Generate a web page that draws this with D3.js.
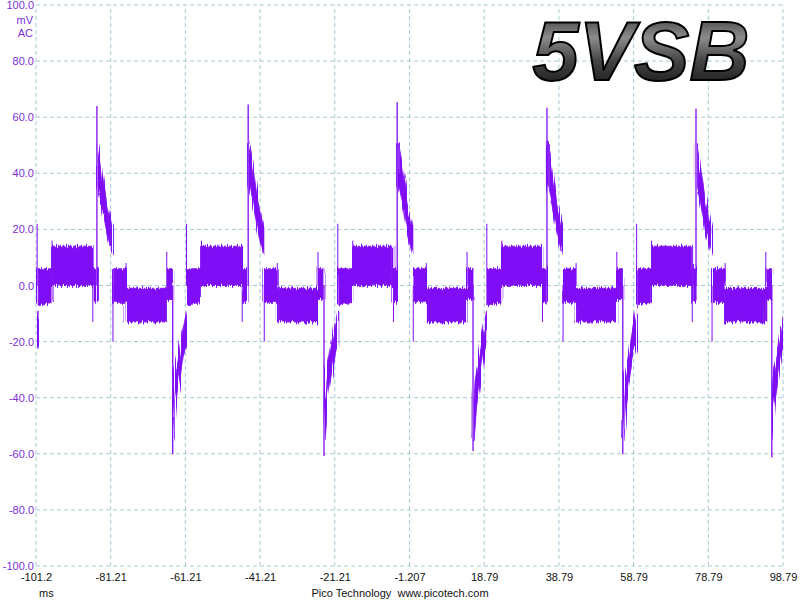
<!DOCTYPE html>
<html lang="en">
<head>
    <meta charset="utf-8">
    <title>5VSB ripple</title>
    <script src="https://d3js.org/d3.v7.min.js"></script>
    <style>
        body { margin: 0; background: #fff; }
        text { font-family: "Liberation Sans", Arial, sans-serif; }
    </style>
</head>
<body>
    <div id="chart"></div>

    <script>
        // Axis ticks (mV and ms)
        const yTicks = [-100, -80, -60, -40, -20, 0, 20, 40, 60, 80, 100];
        const xTicks = [-101.207, -81.207, -61.207, -41.207, -21.207, -1.207, 18.793, 38.793, 58.793, 78.793, 98.793];
        const xTickLabels = ["-101.2", "-81.21", "-61.21", "-41.21", "-21.21", "-1.207", "18.79", "38.79", "58.79", "78.79", "98.79"];

        // Time (ms) of each big positive spike
        const cycleStarts = [-124.9, -84.9, -44.4, -4.5, 35.6, 75.5];
        // Peak of the positive spike and of the negative spike in each cycle (mV)
        const upPeaks = [64, 64, 64.5, 65.3, 63.4, 63];
        const downPeaks = [-60, -60.2, -60.8, -59, -60.2, -61.3];

        // Envelope of the noisy trace within one cycle: [ms after the spike, low mV, high mV]
        const decayBand = [[0.1, 36, 51], [0.8, 32, 46], [1.7, 26, 38], [2.6, 19, 30], [3.9, 12, 22], [4.2, 11, 21]];
        const zeroBand1 = [[4.2, -6, 6], [7.8, -6, 6]];
        const lowBand = [[7.8, -13, -1], [18.7, -13, -1]];
        const zeroBand2 = [[18.7, -5, 6], [20.3, -5, 6]];
        const recoveryBand = [[20.3, -55, -40], [20.6, -50, -33], [21.0, -43, -30], [21.8, -36, -25], [23.1, -25, -15], [24.0, -21, -9]];
        const zeroBand3 = [[24.0, -7, 6], [28.0, -6, 6]];
        const highBand = [[28.0, 0, 14], [39.0, 0, 14]];
        const zeroBand4 = [[39.0, -6, 6], [40.2, -6, 6]];
        const bands = [decayBand, zeroBand1, lowBand, zeroBand2, recoveryBand, zeroBand3, highBand, zeroBand4];

        // Narrow glitches at the band edges: [ms after the spike, mV]
        const glitches = [[4.3, -20], [18.7, 12], [24.0, 22], [38.9, -13], [7.8, 8], [28.0, 16]];

        const width = 800;
        const height = 600;
        const margin = { left: 36, right: 17, top: 5, bottom: 34 };

        const svg = d3.select("#chart")
            .append("svg")
            .attr("width", width)
            .attr("height", height);

        const x = d3.scaleLinear()
            .domain([xTicks[0], xTicks[xTicks.length - 1]])
            .range([margin.left, width - margin.right]);

        const y = d3.scaleLinear()
            .domain([-100, 100])
            .range([height - margin.bottom, margin.top]);

        const gridColor = "#a6cbd6";

        // Grid
        svg.append("g")
            .selectAll("line")
            .data(yTicks)
            .join("line")
            .attr("x1", x.range()[0]).attr("x2", x.range()[1])
            .attr("y1", d => y(d)).attr("y2", d => y(d))
            .attr("stroke", gridColor)
            .attr("stroke-dasharray", "4,3");

        svg.append("g")
            .selectAll("line")
            .data(xTicks)
            .join("line")
            .attr("y1", y.range()[0]).attr("y2", y.range()[1])
            .attr("x1", d => x(d)).attr("x2", d => x(d))
            .attr("stroke", gridColor)
            .attr("stroke-dasharray", "4,3");

        // Y axis labels
        const fmt = d3.format(".1f");
        const yAxis = svg.append("g")
            .attr("transform", `translate(${margin.left - 2}, 0)`)
            .call(d3.axisLeft(y).tickValues(yTicks)
                .tickFormat(d => fmt(d).replace("\u2212", "-"))
                .tickSize(0).tickPadding(0));
        yAxis.select(".domain").remove();
        yAxis.selectAll("text")
            .attr("fill", "#7a30d8")
            .style("font-size", "11px")
            .style("font-family", "'Liberation Sans', Arial, sans-serif");

        svg.append("text").attr("x", 33).attr("y", 24).attr("text-anchor", "end")
            .attr("fill", "#7a30d8").style("font-size", "11px").text("mV");
        svg.append("text").attr("x", 33).attr("y", 37).attr("text-anchor", "end")
            .attr("fill", "#7a30d8").style("font-size", "11px").text("AC");

        // X axis labels
        const xAxis = svg.append("g")
            .attr("transform", `translate(0, ${y.range()[0] + 7})`)
            .call(d3.axisBottom(x).tickValues(xTicks).tickFormat((d, i) => xTickLabels[i]).tickSize(0).tickPadding(0));
        xAxis.select(".domain").remove();
        xAxis.selectAll("text")
            .attr("fill", "#111")
            .style("font-size", "11px")
            .style("font-family", "'Liberation Sans', Arial, sans-serif");

        svg.append("text").attr("x", 39).attr("y", 597)
            .attr("fill", "#111").style("font-size", "11px").text("ms");
        svg.append("text").attr("x", 400).attr("y", 597).attr("text-anchor", "middle")
            .attr("fill", "#111").style("font-size", "11px")
            .attr("xml:space", "preserve").text("Pico Technology  www.picotech.com");

        const defs = svg.append("defs");

        // Clip to plot area
        defs.append("clipPath").attr("id", "plot")
            .append("rect")
            .attr("x", x.range()[0]).attr("y", margin.top)
            .attr("width", x.range()[1] - x.range()[0])
            .attr("height", y.range()[0] - margin.top);

        // Grainy edges for the noisy bands (styling only)
        const grain = defs.append("filter").attr("id", "grain")
            .attr("x", "-2%").attr("y", "-10%").attr("width", "104%").attr("height", "120%");
        grain.append("feTurbulence")
            .attr("type", "fractalNoise")
            .attr("baseFrequency", "0.8 0.004")
            .attr("numOctaves", 1)
            .attr("seed", 3)
            .attr("result", "noise");
        grain.append("feDisplacementMap")
            .attr("in", "SourceGraphic").attr("in2", "noise")
            .attr("scale", 10)
            .attr("xChannelSelector", "A")
            .attr("yChannelSelector", "R");

        const traceColor = "#7f0cf5";
        const trace = svg.append("g").attr("clip-path", "url(#plot)");
        const bandLayer = trace.append("g").attr("filter", "url(#grain)");

        const area = d3.area()
            .x(d => x(d[0]))
            .y0(d => y(d[1]))
            .y1(d => y(d[2]));

        cycleStarts.forEach((t0, i) => {
            bands.forEach(band => {
                bandLayer.append("path")
                    .datum(band.map(p => [t0 + p[0], p[1], p[2]]))
                    .attr("d", area)
                    .attr("fill", traceColor)
                    .attr("stroke", traceColor)
                    .attr("stroke-width", 0.8);
            });

            // Big positive spike
            trace.append("line")
                .attr("x1", x(t0)).attr("x2", x(t0))
                .attr("y1", y(0)).attr("y2", y(upPeaks[i]))
                .attr("stroke", traceColor).attr("stroke-width", 1.3);

            // Big negative spike
            trace.append("line")
                .attr("x1", x(t0 + 20.3)).attr("x2", x(t0 + 20.3))
                .attr("y1", y(0)).attr("y2", y(downPeaks[i]))
                .attr("stroke", traceColor).attr("stroke-width", 1.3);

            glitches.forEach(g => {
                trace.append("line")
                    .attr("x1", x(t0 + g[0])).attr("x2", x(t0 + g[0]))
                    .attr("y1", y(0)).attr("y2", y(g[1]))
                    .attr("stroke", traceColor).attr("stroke-width", 1);
            });
        });

        // Title with shaded metal look
        const grad = defs.append("linearGradient")
            .attr("id", "metal").attr("x1", 0).attr("y1", 0).attr("x2", 0).attr("y2", 1);
        grad.append("stop").attr("offset", "0%").attr("stop-color", "#222");
        grad.append("stop").attr("offset", "35%").attr("stop-color", "#8c8c8c");
        grad.append("stop").attr("offset", "60%").attr("stop-color", "#444");
        grad.append("stop").attr("offset", "100%").attr("stop-color", "#0a0a0a");

        svg.append("text")
            .attr("x", 641).attr("y", 80)
            .attr("text-anchor", "middle")
            .attr("fill", "url(#metal)")
            .attr("stroke", "#000")
            .attr("stroke-width", 2)
            .style("font-size", "83px")
            .style("font-weight", "bold")
            .style("font-style", "italic")
            .text("5VSB");
    </script>
</body>
</html>
